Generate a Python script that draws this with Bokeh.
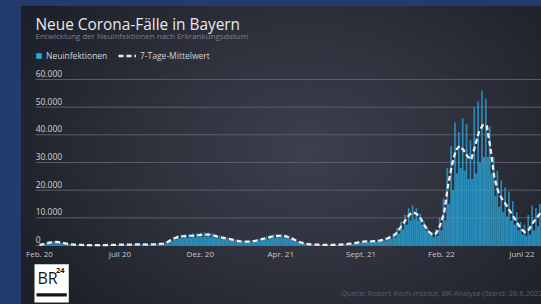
from bokeh.plotting import figure
from bokeh.models import Range1d, Label, Legend, LegendItem, ColumnDataSource
from bokeh.transform import dodge
from bokeh.embed import file_html
from bokeh.resources import INLINE
from bokeh.core.properties import value

# 7-Tage-Mittelwert, one value per week (from Feb. 2020)
mittelwert = [
    200, 500, 900, 1100, 1300, 1250, 950, 700, 450, 300,
    250, 200, 150, 150, 120, 120, 120, 150, 180, 220,
    250, 300, 330, 350, 350, 380, 400, 380, 350, 400,
    450, 550, 700, 1100, 1900, 2600, 3100, 3300, 3400, 3500,
    3600, 3700, 3850, 3950, 3900, 3650, 3300, 3000, 2700, 2400,
    2100, 1800, 1500, 1400, 1400, 1500, 1700, 2000, 2400, 2700,
    3100, 3400, 3500, 3500, 3300, 2800, 2200, 1500, 1000, 650,
    450, 320, 280, 260, 250, 250, 260, 280, 320, 400,
    550, 700, 900, 1200, 1400, 1500, 1500, 1600, 1700, 2000,
    2400, 3000, 3600, 5200, 7200, 9300, 11200, 12000, 11200, 9500,
    7000, 5000, 3800, 4500, 7500, 12000, 22000, 29000, 34500, 36000,
    34500, 32300, 31000, 36000, 41000, 43500, 43500, 35000, 24500, 19500,
    16800, 14800, 12500, 10300, 8000, 5800, 4800, 5800, 8200, 10000,
    11800, 12500,
]
# Neuinfektionen: first half of each week (weekdays, high)
faelle_hoch = [
    250, 650, 1100, 1400, 1600, 1500, 1150, 850, 550, 380,
    300, 250, 190, 180, 150, 150, 150, 180, 220, 270,
    300, 360, 400, 420, 420, 460, 480, 460, 420, 480,
    540, 660, 850, 1350, 2300, 3100, 3700, 3950, 4100, 4200,
    4300, 4450, 4600, 4750, 4700, 4400, 3950, 3600, 3250, 2900,
    2500, 2150, 1800, 1700, 1700, 1800, 2050, 2400, 2900, 3250,
    3700, 4100, 4200, 4200, 3950, 3350, 2650, 1800, 1200, 780,
    540, 380, 340, 310, 300, 300, 310, 340, 380, 480,
    660, 840, 1080, 1450, 1700, 1800, 1800, 1900, 2050, 2400,
    2900, 3600, 4300, 6300, 8700, 11000, 13500, 14500, 13500, 11500,
    8500, 6000, 4800, 5800, 10000, 17000, 28000, 36000, 44500, 41000,
    46000, 44000, 38000, 50000, 52000, 56000, 53000, 43000, 32000, 27000,
    23500, 21000, 19500, 16000, 12000, 8500, 7500, 11000, 14500, 13500,
    15000, 16000,
]
# Neuinfektionen: second half of each week (weekend, low)
faelle_tief = [
    150, 350, 700, 800, 1000, 1000, 750, 550, 350, 220,
    200, 150, 110, 120, 90, 90, 90, 120, 140, 170,
    200, 240, 260, 280, 280, 300, 320, 300, 280, 320,
    360, 440, 550, 850, 1500, 2100, 2500, 2650, 2700, 2800,
    2900, 2950, 3100, 3150, 3100, 2900, 2650, 2400, 2150, 1900,
    1700, 1450, 1200, 1100, 1100, 1200, 1350, 1600, 1900, 2150,
    2500, 2700, 2800, 2800, 2650, 2250, 1750, 1200, 800, 520,
    360, 260, 220, 210, 200, 200, 210, 220, 260, 320,
    440, 560, 720, 950, 1100, 1200, 1200, 1300, 1350, 1600,
    1900, 2400, 2900, 4200, 5800, 7500, 9000, 9500, 9000, 7500,
    5500, 4000, 3000, 3500, 5500, 9000, 15000, 20000, 26000, 28000,
    27000, 24000, 24000, 26000, 30000, 32000, 32000, 26000, 18000, 14000,
    12000, 10500, 9000, 7500, 5500, 4000, 3500, 4000, 5500, 7000,
    8500, 9000,
]

tick_tage = [0, 146, 292, 438, 584, 730, 876]
tick_labels = ["Feb. 20", "Juli 20", "Dez. 20", "Apr. 21", "Sept. 21", "Feb. 22", "Juni 22"]
y_ticks = [0, 10000, 20000, 30000, 40000, 50000, 60000]
y_labels = ["0", "10.000", "20.000", "30.000", "40.000", "50.000", "60.000"]

FONT = "Open Sans"
BAR = "#29a6dc"

tage = [7 * i for i in range(len(mittelwert))]
src = ColumnDataSource(dict(tag=tage, mw=mittelwert, hoch=faelle_hoch, tief=faelle_tief))

x_start, x_end = -32.69, 911.6
grid_start = tage[0] - 7
p = figure(width=520, height=298, output_backend="svg", toolbar_location=None,
           x_range=Range1d(x_start, x_end), y_range=Range1d(-21323, 86375),
           x_axis_location=None, y_axis_location=None,
           min_border_left=0, min_border_right=0, min_border_top=0, min_border_bottom=0)
p.margin = (6, 0, 0, 21)
p.border_fill_color = None
p.background_fill_color = None
p.outline_line_color = None
p.grid.visible = False
p.styles = {"background": "radial-gradient(ellipse 62% 80% at 55% 48%, #3c3f4c 0%, #30333e 45%, #1d2028 100%)"}

# horizontal grid lines
p.segment(x0=[grid_start] * len(y_ticks), x1=[x_end] * len(y_ticks), y0=y_ticks, y1=y_ticks,
          line_color="#5c5f6a", line_width=1)

p.vbar(x=dodge("tag", -1.5), top="hoch", width=3.0, source=src,
       fill_color=BAR, fill_alpha=0.78, line_color=None)
p.vbar(x=dodge("tag", 2.0), top="tief", width=4.0, source=src,
       fill_color=BAR, fill_alpha=0.78, line_color=None)
line_r = p.line(x="tag", y="mw", source=src, line_color="#eceef2", line_width=2.3,
                line_dash="5 3", line_join="round")

# legend proxy: a single zero-height bar
proxy = p.vbar(x=[tage[0]], top=[0], width=0.01, fill_color="#2aa8de", line_color=None)

# y tick labels (above grid lines)
p.text(x=[grid_start] * len(y_ticks), y=y_ticks, text=y_labels, text_font=value(FONT),
       text_font_size="8.5px", text_color="#d2d4d9", text_baseline="alphabetic",
       text_align="left", y_offset=-6)
# x tick labels
p.text(x=tick_tage, y=[0] * len(tick_tage), text=tick_labels, text_font=value(FONT),
       text_font_size="8px", text_color="#c6c8ce", text_baseline="top",
       text_align="center", y_offset=3)

leg_kw = dict(orientation="horizontal", glyph_height=7, label_height=7, label_standoff=4,
              padding=0, margin=0, spacing=0, border_line_color=None, background_fill_alpha=0,
              label_text_font=FONT, label_text_font_size="8.5px", label_text_color="#d0d3d9")
leg1 = Legend(items=[LegendItem(label="Neuinfektionen", renderers=[proxy])],
              location=(14, 243.5), glyph_width=7, **leg_kw)
leg2 = Legend(items=[LegendItem(label="7-Tage-Mittelwert", renderers=[line_r])],
              location=(97, 243.5), glyph_width=18, **leg_kw)
p.add_layout(leg1)
p.add_layout(leg2)

p.add_layout(Label(x=14, y=280.5, x_units="screen", y_units="screen",
                   text="Neue Corona-Fälle in Bayern", text_font=FONT, text_baseline="alphabetic",
                   text_font_size="15.4px", text_color="#e8e9ed"))
p.add_layout(Label(x=14, y=269, x_units="screen", y_units="screen",
                   text="Entwicklung der Neuinfektionen nach Erkrankungsdatum", text_font=FONT,
                   text_baseline="alphabetic", text_font_size="8px", text_color="#7a7f8b"))
p.add_layout(Label(x=319.7, y=12, x_units="screen", y_units="screen",
                   text="Quelle: Robert Koch-Institut, BR-Analyse (Stand: 28.6.2022)", text_font=FONT,
                   text_baseline="alphabetic", text_font_size="7.5px", text_color="#5b5f6a"))
# BR24 logo: white box, lettering, underline bar
p.add_layout(Label(x=13, y=2, x_units="screen", y_units="screen", text="\u00a0",
                   text_font=FONT, text_font_size="1px", text_color="white",
                   text_baseline="bottom", text_align="left",
                   background_fill_color="white", padding=(0, 34, 37, 0)))
p.add_layout(Label(x=16, y=27, x_units="screen", y_units="screen", text="BR",
                   text_font=FONT, text_font_size="16px", text_color="#151515",
                   text_baseline="alphabetic"))
p.add_layout(Label(x=34.5, y=34.5, x_units="screen", y_units="screen", text="24",
                   text_font=FONT, text_font_size="7.5px", text_font_style="bold",
                   text_baseline="alphabetic", text_color="#151515"))
p.add_layout(Label(x=15, y=8, x_units="screen", y_units="screen", text="\u00a0",
                   text_font=FONT, text_font_size="1px", text_color="#151515",
                   text_baseline="bottom", text_align="left",
                   background_fill_color="#151515", padding=(0, 30, 2, 0)))

html = file_html(p, INLINE)
html = html.replace("</head>", "<style>body{background: linear-gradient(#213c6c,#213c6c) top left/100% 6px no-repeat, linear-gradient(to right, #213c6c 21px, #22252d 21px);}</style></head>", 1)
open("out.html", "w").write(html)
